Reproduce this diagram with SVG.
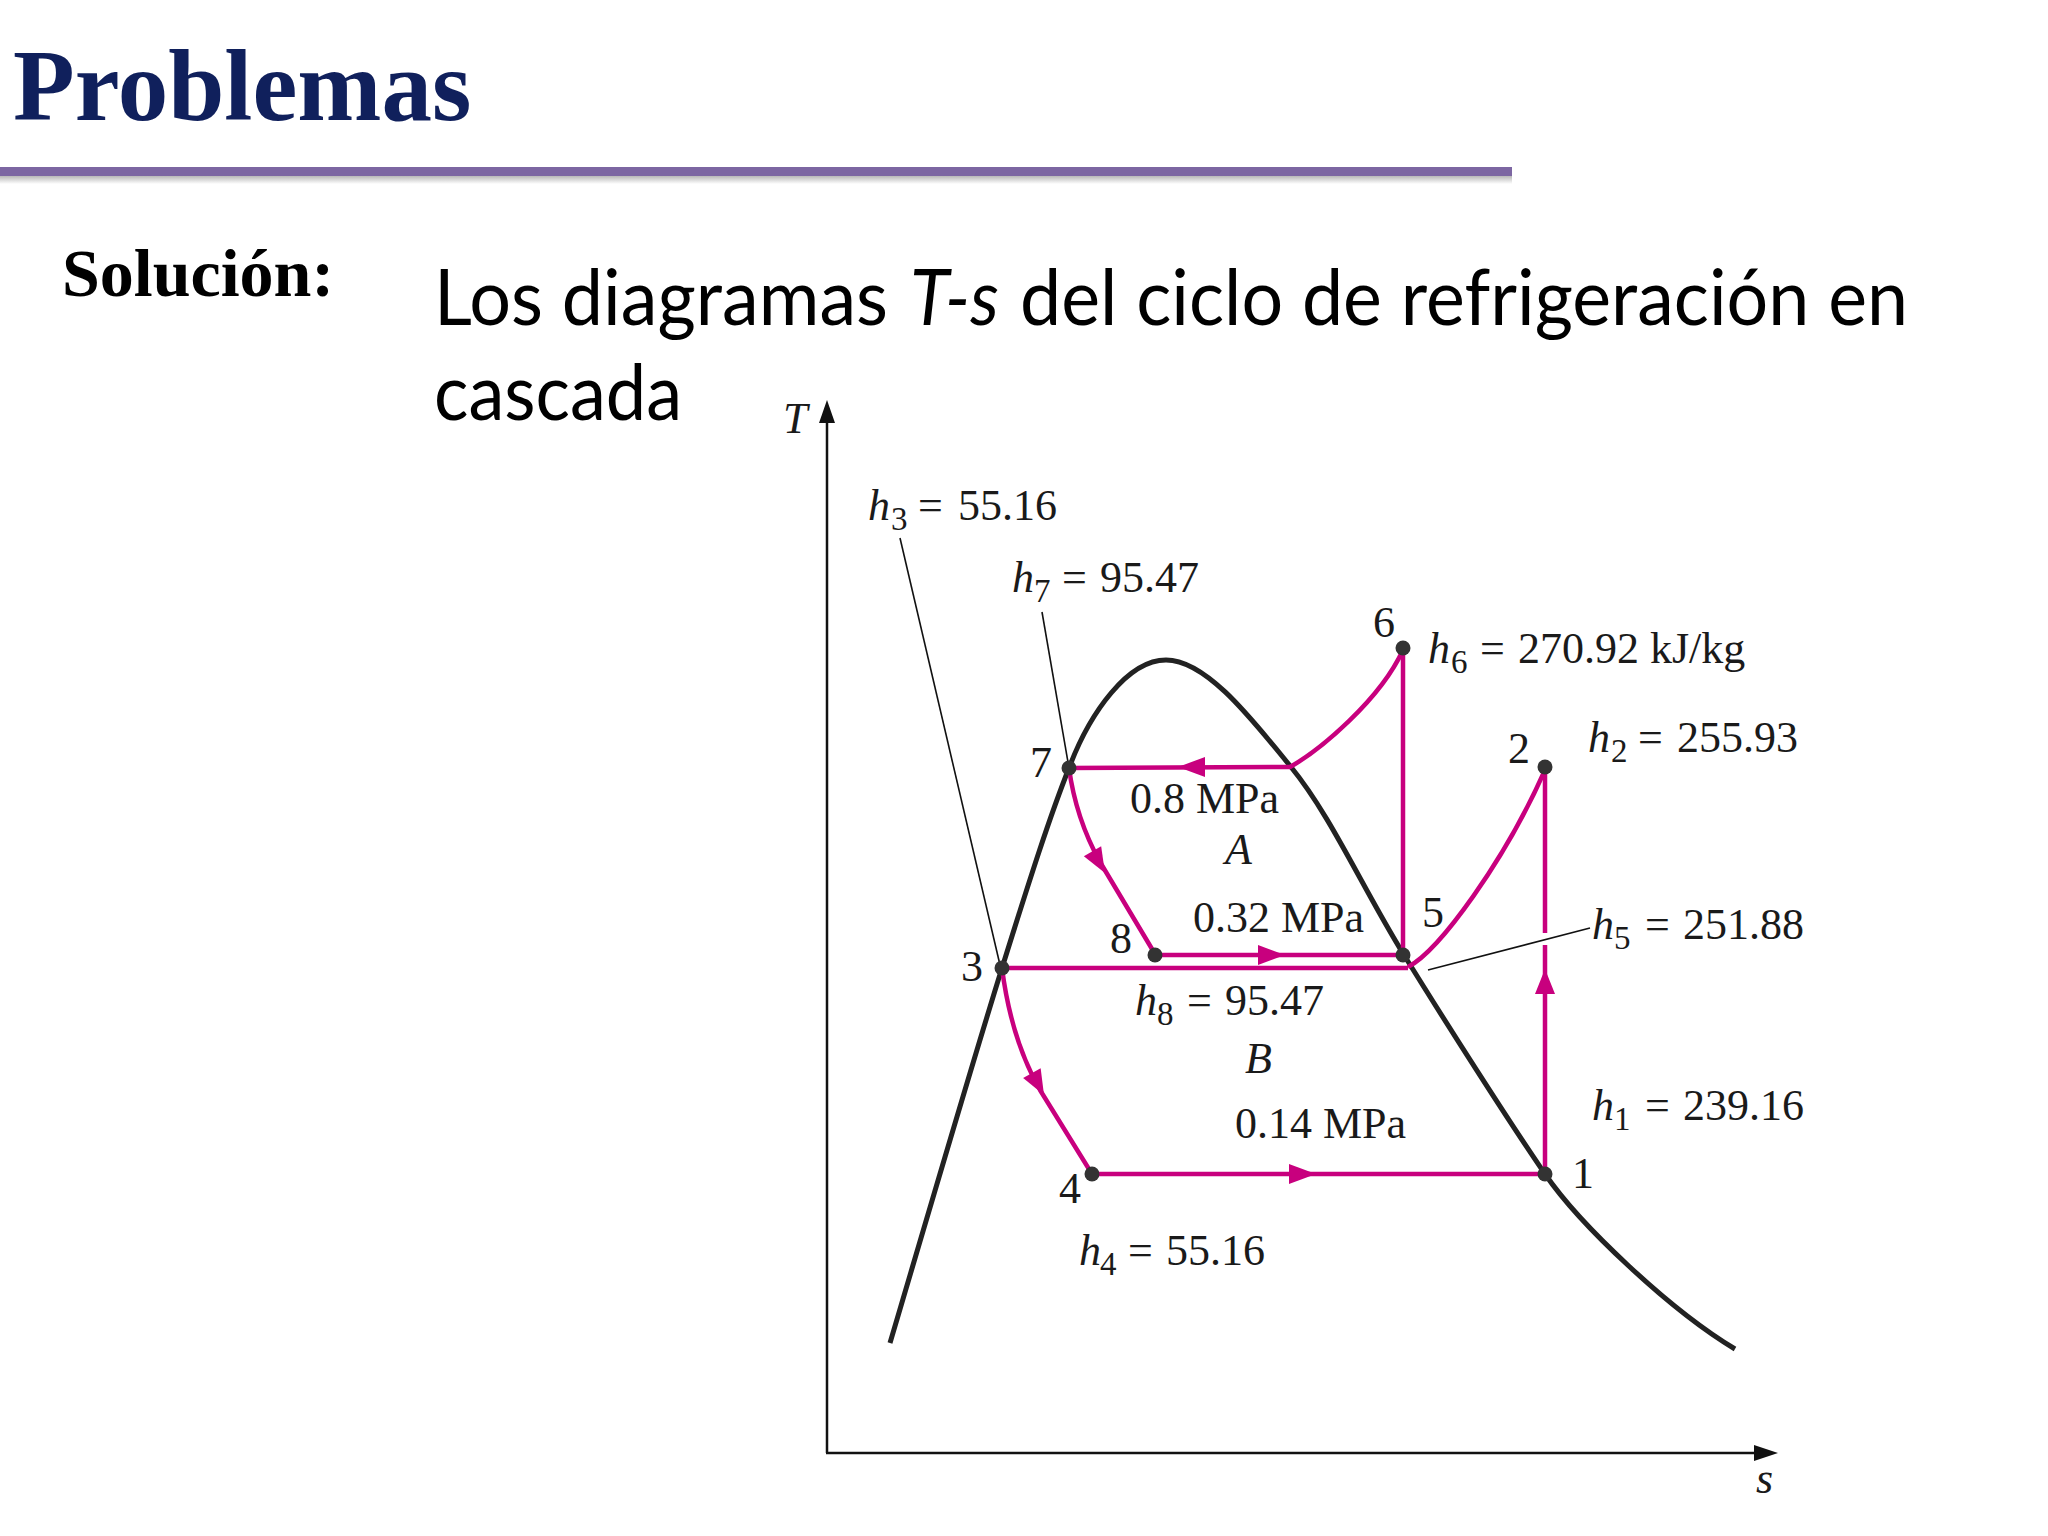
<svg xmlns="http://www.w3.org/2000/svg" width="2048" height="1536" viewBox="0 0 2048 1536">
<defs>
<style>
.cyc{fill:none;stroke:#c8007e;stroke-width:4.5;stroke-linejoin:round;stroke-linecap:butt}
.ah{fill:#c8007e}
.dot{fill:#333}
.lbl{font-family:"Liberation Serif","Times New Roman",serif;font-size:44px;fill:#1a1a1a}
.it{font-style:italic}
.sub{font-size:33px}
.lead{stroke:#111;stroke-width:1.6;fill:none}
.ax{stroke:#111;stroke-width:2.5;fill:none}
.dome{fill:none;stroke:#222;stroke-width:5;stroke-linecap:butt}
.body{font-family:Lato,"Open Sans","Liberation Sans",sans-serif;font-size:78px;fill:#000}
</style>
<linearGradient id="sh" x1="0" y1="0" x2="0" y2="1">
<stop offset="0" stop-color="#888" stop-opacity="0.6"/>
<stop offset="1" stop-color="#888" stop-opacity="0"/>
</linearGradient>
</defs>
<rect width="2048" height="1536" fill="#fff"/>

<g id="header">
<text x="13" y="120" font-family="Liberation Serif,'Times New Roman',serif" font-weight="bold" font-size="101" fill="#10205c">Problemas</text>
<rect x="0" y="167" width="1512" height="9" fill="#7c66a2"/>
<rect x="0" y="176" width="1512" height="8" fill="url(#sh)"/>
</g>

<g id="text-block">
<text x="62" y="296" font-family="Liberation Serif,'Times New Roman',serif" font-weight="bold" font-size="68" fill="#000">Solución:</text>
<text class="body" x="434" y="325" textLength="454" lengthAdjust="spacingAndGlyphs">Los diagramas</text>
<text class="body" x="910" y="325" font-style="italic" textLength="89" lengthAdjust="spacingAndGlyphs">T-s</text>
<text class="body" x="1020" y="325" textLength="888" lengthAdjust="spacingAndGlyphs">del ciclo de refrigeración en</text>
<text class="body" x="434" y="420" textLength="248" lengthAdjust="spacingAndGlyphs">cascada</text>
</g>

<g id="axes">
<line class="ax" x1="827" y1="420" x2="827" y2="1453"/>
<polygon points="827,400 819,423 835,423" fill="#111"/>
<line class="ax" x1="826" y1="1453" x2="1758" y2="1453"/>
<polygon points="1778,1453 1754,1445 1754,1461" fill="#111"/>
<text class="lbl it" x="783" y="433">T</text>
<text class="lbl it" x="1756" y="1493">s</text>
</g>

<g id="dome">
<path class="dome" d="M 890 1343 C 927 1218, 972 1064, 1002 968 C 1032 872, 1050 816, 1069 768 C 1090 712, 1128 660, 1166 660 C 1206 660, 1251 718, 1291 767 C 1331 816, 1362 887, 1404 955 C 1446 1023, 1510 1123, 1545 1174 C 1580 1225, 1670 1310, 1735 1349"/>
</g>

<g id="connectors">
<path class="cyc" d="M 1069 768 L 1290 767 C 1320 750, 1380 700, 1403 650"/>
<polygon class="ah" points="1178,767 1205,757 1205,777"/>
<line class="cyc" x1="1403" y1="648" x2="1403" y2="955"/>
<path class="cyc" d="M 1069 768 C 1074 805, 1085 835, 1100 862 L 1155 954"/>
<polygon class="ah" points="0,0 -25,-10 -25,10" transform="translate(1105,873) rotate(60)"/>
<line class="cyc" x1="1155" y1="955" x2="1403" y2="955"/>
<polygon class="ah" points="1285,955 1258,945 1258,965"/>
<line class="cyc" x1="1002" y1="968" x2="1408" y2="968"/>
<path class="cyc" d="M 1408 967 C 1440 950, 1505 860, 1545 770"/>
<line class="cyc" x1="1545" y1="1174" x2="1545" y2="945"/>
<line class="cyc" x1="1545" y1="933" x2="1545" y2="767"/>
<polygon class="ah" points="1545,969 1535,994 1555,994"/>
<path class="cyc" d="M 1002 968 C 1008 1015, 1020 1055, 1040 1090 L 1092 1174"/>
<polygon class="ah" points="0,0 -25,-10 -25,10" transform="translate(1044,1095) rotate(61)"/>
<line class="cyc" x1="1092" y1="1174" x2="1545" y2="1174"/>
<polygon class="ah" points="1316,1174 1289,1164 1289,1184"/>
<line class="lead" x1="900" y1="538" x2="1000" y2="965"/>
<line class="lead" x1="1042" y1="612" x2="1069" y2="768"/>
<line class="lead" x1="1428" y1="970" x2="1590" y2="928"/>
</g>

<g id="p1"><circle class="dot" cx="1545" cy="1174" r="7.5"/><text class="lbl" x="1572" y="1188">1</text></g>
<g id="p2"><circle class="dot" cx="1545" cy="767" r="7.5"/><text class="lbl" x="1508" y="763">2</text></g>
<g id="p3"><circle class="dot" cx="1002" cy="968" r="7.5"/><text class="lbl" x="961" y="981">3</text></g>
<g id="p4"><circle class="dot" cx="1092" cy="1174" r="7.5"/><text class="lbl" x="1059" y="1203">4</text></g>
<g id="p5"><circle class="dot" cx="1403" cy="955" r="7.5"/><text class="lbl" x="1422" y="927">5</text></g>
<g id="p6"><circle class="dot" cx="1403" cy="648" r="7.5"/><text class="lbl" x="1373" y="637">6</text></g>
<g id="p7"><circle class="dot" cx="1069" cy="768" r="7.5"/><text class="lbl" x="1030" y="777">7</text></g>
<g id="p8"><circle class="dot" cx="1155" cy="955" r="7.5"/><text class="lbl" x="1110" y="953">8</text></g>

<g id="labels">
<text class="lbl"><tspan class="it" x="868" y="520">h</tspan><tspan class="sub" x="891" y="530">3</tspan><tspan x="918" y="520">=</tspan><tspan x="958" y="520">55.16</tspan></text>
<text class="lbl"><tspan class="it" x="1012" y="592">h</tspan><tspan class="sub" x="1034" y="602">7</tspan><tspan x="1062" y="592">=</tspan><tspan x="1100" y="592">95.47</tspan></text>
<text class="lbl"><tspan class="it" x="1428" y="663">h</tspan><tspan class="sub" x="1451" y="673">6</tspan><tspan x="1480" y="663">=</tspan><tspan x="1518" y="663">270.92 kJ/kg</tspan></text>
<text class="lbl"><tspan class="it" x="1588" y="752">h</tspan><tspan class="sub" x="1611" y="762">2</tspan><tspan x="1638" y="752">=</tspan><tspan x="1677" y="752">255.93</tspan></text>
<text class="lbl"><tspan class="it" x="1592" y="939">h</tspan><tspan class="sub" x="1614" y="949">5</tspan><tspan x="1645" y="939">=</tspan><tspan x="1683" y="939">251.88</tspan></text>
<text class="lbl"><tspan class="it" x="1592" y="1120">h</tspan><tspan class="sub" x="1614" y="1130">1</tspan><tspan x="1645" y="1120">=</tspan><tspan x="1683" y="1120">239.16</tspan></text>
<text class="lbl"><tspan class="it" x="1135" y="1015">h</tspan><tspan class="sub" x="1157" y="1025">8</tspan><tspan x="1187" y="1015">=</tspan><tspan x="1225" y="1015">95.47</tspan></text>
<text class="lbl"><tspan class="it" x="1079" y="1265">h</tspan><tspan class="sub" x="1100" y="1275">4</tspan><tspan x="1128" y="1265">=</tspan><tspan x="1166" y="1265">55.16</tspan></text>
<text class="lbl" x="1130" y="813">0.8 MPa</text>
<text class="lbl it" x="1225" y="864">A</text>
<text class="lbl" x="1193" y="932">0.32 MPa</text>
<text class="lbl it" x="1245" y="1073">B</text>
<text class="lbl" x="1235" y="1138">0.14 MPa</text>
</g>
</svg>
